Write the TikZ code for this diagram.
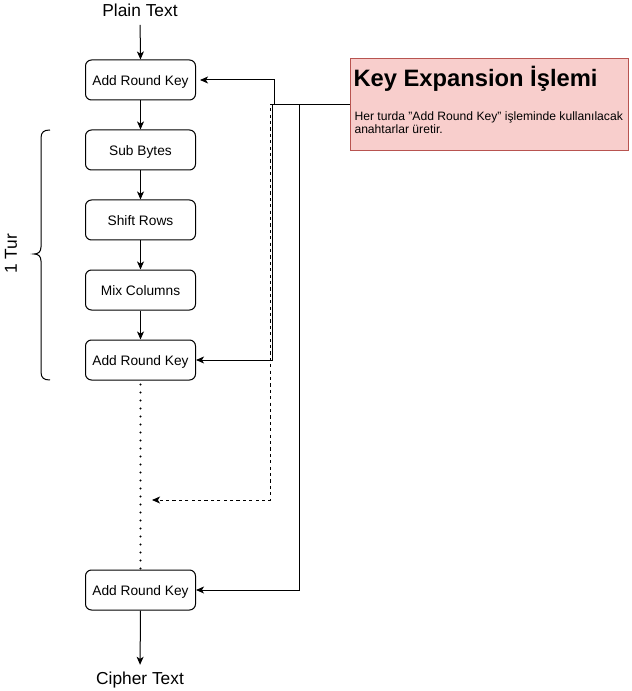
\documentclass[tikz,border=0pt]{standalone}
\usepackage{fontspec}
\setmainfont{Liberation Sans}
\usetikzlibrary{arrows.meta}
\definecolor{kfill}{HTML}{F8CECC}
\definecolor{kdraw}{HTML}{B85450}
\begin{document}
\begin{tikzpicture}[x=0.75pt,y=-0.75pt,
  every path/.style={line width=0.75pt},
  stepbox/.style={draw=black,rounded corners=4.5pt,minimum width=82.5pt,minimum height=30pt,inner sep=0pt,text height=9.3pt,text depth=0.5pt,font=\fontsize{10.3}{12}\selectfont},
  arr/.style={-{Stealth[length=6pt,width=5.2pt,inset=1.6pt]}},
  dotline/.style={line width=1.7pt,line cap=round,dash pattern=on 0pt off 6pt},
  dashline/.style={dash pattern=on 2.4pt off 2.4pt},
  bigtext/.style={font=\fontsize{13}{15}\selectfont,inner sep=0pt}
]
\useasboundingbox (0,0) rectangle (631,691);

\node[bigtext] (plain) at (140,10) {Plain Text};
\node[bigtext] (cipher) at (140,680) {Cipher Text};

\node[stepbox] (ark1) at (140.5,80) {Add Round Key};
\node[stepbox] (sub) at (140.5,150) {Sub Bytes};
\node[stepbox] (shift) at (140.5,220) {Shift Rows};
\node[stepbox] (mix) at (140.5,290) {Mix Columns};
\node[stepbox] (ark2) at (140.5,360) {Add Round Key};
\node[stepbox] (ark3) at (140.5,590) {Add Round Key};

\node[draw=kdraw,fill=kfill,minimum width=209pt,minimum height=68.5pt,inner sep=0pt] (kx) at (489.5,104.5) {};
\node[anchor=base west,inner sep=0pt,font=\fontsize{17.8}{20}\bfseries] (ktitle) at (353,87) {Key Expansion İşlemi};
\node[anchor=base west,inner sep=0pt,align=left,font=\fontsize{9.1}{9.9}\selectfont] (kbody) at (354,134) {Her turda "Add Round Key" işleminde kullanılacak\\anahtarlar üretir.};

\coordinate (mid) at (152,500);

\draw[arr,shorten <=6pt] (plain.south) -- (ark1.north);
\draw[arr] (ark1) -- (sub);
\draw[arr] (sub) -- (shift);
\draw[arr] (shift) -- (mix);
\draw[arr] (mix) -- (ark2);
\draw[dotline] ([yshift=-3pt]ark2.south) -- (ark3.north);
\draw[arr,shorten >=5pt] (ark3.south) -- (cipher.north);

\draw[arr,shorten >=3pt] (kx.west) -- ++(-75,0) |- (ark1.east);
\draw[arr] (kx.west) -- ++(-77,0) |- (ark2.east);
\draw[arr,dashline] (kx.west) -- ++(-79.5,0) |- (mid);
\draw[arr] (kx.west) -- ++(-50,0) |- (ark3.east);

\draw (50,130) .. controls (44,130) and (41,132) .. (41,138) -- (41,247)
  .. controls (41,252) and (38,254) .. (34,254)
  .. controls (38,254) and (41,256) .. (41,261) -- (41,372)
  .. controls (41,378) and (44,380) .. (50,380);
\node[bigtext,rotate=90] (tur) at (11,254) {1 Tur};
\end{tikzpicture}
\end{document}
